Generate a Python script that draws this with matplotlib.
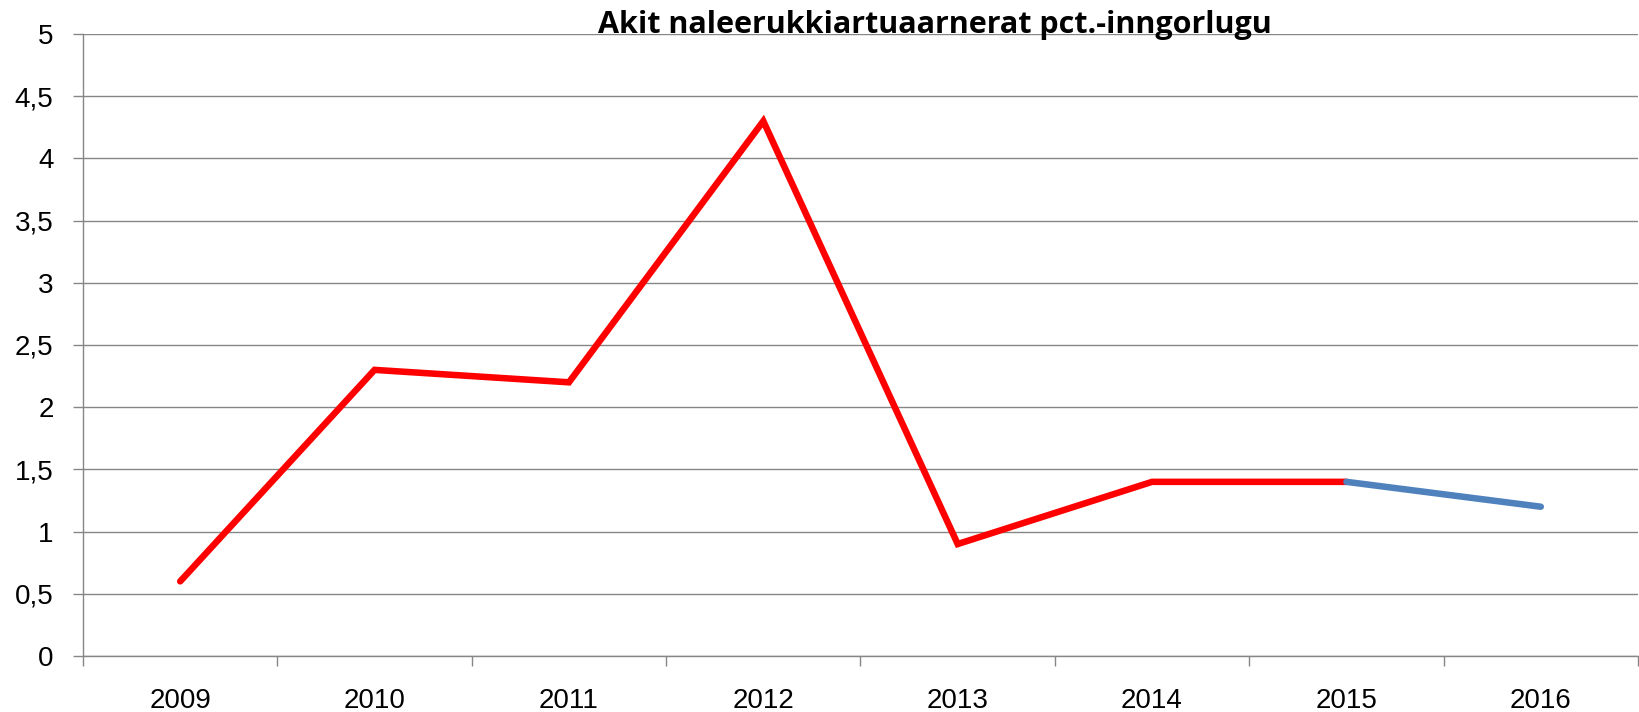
import numpy as np
import matplotlib.pyplot as plt

years = ['2009', '2010', '2011', '2012', '2013', '2014', '2015', '2016']
values = [0.6, 2.3, 2.2, 4.3, 0.9, 1.4, 1.4, 1.2]
# last segment (2015 -> 2016) drawn in blue
split = 6
title = 'Akit naleerukkiartuaarnerat pct.-inngorlugu'
y_ticks = [0, 0.5, 1, 1.5, 2, 2.5, 3, 3.5, 4, 4.5, 5]

plt.rcParams['font.family'] = ['Liberation Sans', 'DejaVu Sans']

fig = plt.figure(figsize=(16.4, 7.12), dpi=100)
ax = fig.add_axes([83 / 1640, 56 / 712, 1555 / 1640, 622 / 712])

x = np.arange(len(years))
grey = '#868686'

ax.plot(x[:split + 1], values[:split + 1], color='#FF0000', lw=4.7,
        solid_capstyle='round', solid_joinstyle='miter', zorder=3)
ax.plot(x[split:], values[split:], color='#4F81BD', lw=4.7,
        solid_capstyle='round', zorder=3)

ax.set_xlim(-0.5, len(years) - 0.5)
ax.set_ylim(0, 5)
ax.set_yticks(y_ticks)
ax.set_yticklabels([('%g' % v).replace('.', ',') for v in y_ticks])
ax.set_xticks(x)
ax.set_xticklabels(years)
ax.set_xticks(np.arange(len(years) + 1) - 0.5, minor=True)

ax.tick_params(axis='x', which='major', length=0, pad=23, labelsize=20)
ax.tick_params(axis='x', which='minor', length=7.2, width=1, color=grey)
ax.tick_params(axis='y', length=7.2, width=1, color=grey, pad=14, labelsize=20)

ax.grid(axis='y', color=grey, lw=1)
ax.set_axisbelow(True)
for s in ['top', 'right']:
    ax.spines[s].set_visible(False)
for s in ['left', 'bottom']:
    ax.spines[s].set_color(grey)
    ax.spines[s].set_linewidth(1)

fig.text(935 / 1640, 1 - 25 / 712, title, ha='center', va='center',
         fontsize=22, fontweight='bold', family=['Open Sans', 'DejaVu Sans'])

fig.savefig('out.png', dpi=100)
